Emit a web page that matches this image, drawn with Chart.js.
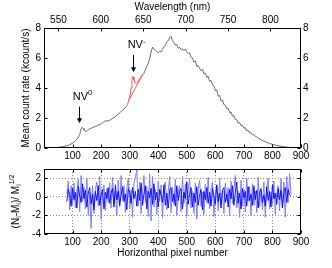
<!DOCTYPE html>
<html>
<head>
<meta charset="utf-8">
<script src="https://cdn.jsdelivr.net/npm/chart.js@4/dist/chart.umd.min.js"></script>
<style>
  html, body { margin: 0; padding: 0; background: #fff; }
  #wrap { position: relative; width: 332px; height: 268px; }
  canvas { position: absolute; left: 0; }
  #espectro { top: 0; }
  #residuo { top: 160px; }
</style>
</head>
<body>
<div id="wrap">
  <canvas id="espectro" width="332" height="160"></canvas>
  <canvas id="residuo" width="332" height="108"></canvas>
</div>
<script>
// Espectro médio (pixel horizontal x taxa de contagem) + resíduos normalizados.

const FONTE = "'Liberation Sans', Arial, sans-serif";

// --- curva cinza, trecho antes do pico NV- ---
const CINZA_A_PX = [0, 10, 20, 30, 40, 50, 60, 70, 80, 90, 100, 105, 110, 115, 120, 125, 128, 131, 134, 137,
  140, 144, 148, 152, 156, 160, 166, 172, 178, 184, 190, 196, 202, 208, 214, 220, 226, 232, 238, 244,
  250, 256, 262, 268, 274, 280, 286, 290];
const CINZA_A_TAXA = [0.02, 0.02, 0.02, 0.03, 0.03, 0.05, 0.07, 0.1, 0.15, 0.22, 0.32, 0.4, 0.48, 0.58, 0.72, 0.9, 1.1, 1.32, 1.38, 1.3,
  1.2, 1.12, 1.1, 1.15, 1.22, 1.27, 1.32, 1.38, 1.42, 1.47, 1.52, 1.58, 1.62, 1.72, 1.8, 1.82, 1.8, 1.87, 1.95, 2.02,
  2.1, 2.2, 2.3, 2.4, 2.5, 2.6, 2.72, 2.82];

// --- trecho vermelho (pico NV-) e linha de base ---
const VERMELHO_PX = [290, 294, 298, 302, 305, 308, 310, 312, 315, 318, 321, 324, 327, 330, 334, 338, 342, 346, 350];
const VERMELHO_TAXA = [2.82, 3.0, 3.25, 3.6, 4.0, 4.5, 4.78, 4.72, 4.55, 4.4, 4.3, 4.28, 4.35, 4.45, 4.58, 4.7, 4.82, 4.9, 4.98];
const BASE_PX = [296, 346];
const BASE_TAXA = [3.15, 4.92];

// --- curva cinza, trecho depois do pico NV- ---
const CINZA_B_PX = [350, 355, 360, 365, 370, 375, 380, 385, 390, 395, 400, 405, 410, 415, 420, 425, 430, 435, 440, 445,
  450, 455, 460, 465, 470, 475, 480, 485, 490, 495, 500, 505, 510, 515, 520, 525, 530, 535, 540, 545,
  550, 555, 560, 565, 570, 575, 580, 585, 590, 595, 600, 605, 610, 615, 620, 625, 630, 635, 640, 645,
  650, 655, 660, 665, 670, 675, 680, 685, 690, 695, 700, 705, 710, 715, 720, 725, 730, 735, 740, 745,
  750, 760, 770, 780, 790, 800, 810, 820, 830, 840, 850, 860, 870, 880];
const CINZA_B_TAXA = [4.98, 5.2, 5.42, 5.65, 5.95, 6.4, 6.72, 6.6, 6.52, 6.42, 6.35, 6.45, 6.4, 6.6, 6.75, 6.85, 7.05, 7.15, 7.35, 7.45,
  7.15, 7.05, 6.85, 6.9, 6.65, 6.72, 6.55, 6.62, 6.5, 6.6, 6.42, 6.3, 6.35, 6.05, 6.0, 5.72, 5.8, 5.45, 5.5, 5.3,
  5.15, 5.25, 4.95, 4.98, 4.7, 4.78, 4.45, 4.5, 4.2, 4.15, 3.82, 3.88, 3.45, 3.5, 3.15, 3.2, 2.9, 2.85, 2.62, 2.65,
  2.35, 2.4, 2.12, 2.15, 1.9, 1.88, 1.65, 1.7, 1.48, 1.5, 1.32, 1.35, 1.15, 1.18, 1.0, 1.02, 0.88, 0.9, 0.78, 0.75,
  0.66, 0.55, 0.45, 0.38, 0.3, 0.24, 0.2, 0.15, 0.12, 0.08, 0.06, 0.04, 0.02, 0.01];

// --- resíduos: pixels 80..865 de 5 em 5 ---
const RESIDUO_INICIO = 80;
const RESIDUO_PASSO = 5;
const RESIDUO_CLARO = [
  0.3, 1.7, -1.4, 1.2, -0.8, 1.5, -1.2, 0.6, 1.9, -1.6,
  2.3, -0.5, 1.0, -1.3, 2.0, -2.0, 0.5, -3.4, 1.2, -1.8,
  0.8, 1.6, -1.0, 2.2, -2.4, 0.4, 1.3, -1.5, 0.9, -0.6,
  1.5, -1.2, 2.1, -0.8, 0.6, -2.0, 1.8, -1.1, 2.3, -0.4,
  1.2, -1.7, 0.9, 2.0, -1.3, 0.7, -2.2, 1.5, 2.1, 2.9,
  -1.0, 1.6, -1.8, 0.4, 2.3, -0.6, 1.1, -2.1, 2.5, -2.6,
  2.2, -1.1, 0.8, -1.9, 1.7, -0.5, 1.3, -2.3, 0.9, 1.6,
  -1.4, 0.6, 2.2, -1.7, 1.0, -0.8, 1.9, -2.0, 0.5, 1.2,
  -1.6, 2.2, -0.7, 1.4, -2.1, 0.8, 2.0, -1.2, 0.6, -1.8,
  1.5, -2.4, 0.9, 1.8, -1.0, 0.5, -1.9, 1.4, -0.6, 2.1,
  -1.3, 0.8, 1.6, -2.1, 0.4, 1.2, -1.5, 2.0, -0.9, 0.7,
  -1.8, 1.5, -0.4, 1.0, -2.0, 1.7, -0.7, 0.9, 2.3, -1.2,
  0.6, -2.2, 1.8, -1.0, 0.8, -1.6, 2.0, -0.5, 1.1, -2.0,
  1.4, -0.9, 0.6, -1.7, 2.1, -1.1, 0.7, -1.4, 1.6, -2.2,
  0.9, 2.0, -1.3, 0.5, -0.8, 1.7, -1.9, 0.4, 1.2, -1.5,
  2.0, -1.0, 1.6, -2.2, 2.2, -0.6, 2.5, 0.3];
const RESIDUO_ESCURO = [
  -0.5, 0.8, 0.2, -1.0, 0.9, -0.3, 0.5, -1.2, 1.1, 0.1,
  -0.6, 1.4, -0.2, 0.7, -1.1, 0.4, 1.0, -0.8, 0.3, -1.4,
  0.6, -0.4, 1.2, -0.9, 0.2, 0.8, -1.3, 0.5, -0.2, 1.0,
  -0.7, 0.4, 0.9, -1.1, 1.3, -0.3, 0.6, -0.9, 0.2, 1.1,
  -0.5, 0.3, -1.4, 0.9, 0.5, -0.7, 1.0, -0.2, 0.6, -1.0,
  0.8, -0.4, 1.5, -0.9, 0.3, 1.2, -1.3, 0.6, -0.1, 0.9,
  -0.8, 1.4, -0.3, 0.5, -1.1, 0.8, 0.2, -0.6, 1.3, -0.9,
  0.4, -1.2, 0.7, 1.0, -0.5, 0.3, -1.0, 1.2, -0.4, 0.6,
  0.9, -1.3, 0.5, -0.2, 1.6, -0.8, 0.3, 1.0, -1.1, 0.4,
  -0.6, 1.1, -0.9, 0.2, 0.8, -1.4, 0.6, -0.3, 1.0, -0.7,
  0.5, -1.0, 0.9, 0.1, -0.8, 1.3, -0.5, 0.4, -1.2, 0.7,
  1.0, -0.6, 0.3, -1.1, 0.8, -0.2, 1.2, -0.9, 0.5, 1.6,
  -0.7, 0.4, -1.3, 0.9, -0.1, 0.6, -1.0, 1.1, -0.4, 0.3,
  -0.9, 1.2, -0.3, 0.7, -1.2, 0.5, 0.9, -0.6, 0.2, -1.0,
  1.1, -0.4, 0.6, -1.1, 1.3, -0.2, 0.4, -0.8, 0.9, -0.3,
  0.7, -1.2, 0.5, 1.0, -0.6, 0.8, 0.2, 0.1];

// --- eixos ---
const PIXEL_MIN = 0, PIXEL_MAX = 900;
const ONDA_MIN = 533, ONDA_MAX = 836;      // comprimento de onda nas bordas do eixo
const TAXA_MIN = 0, TAXA_MAX = 8;
const RES_MIN = -4, RES_MAX = 3;

// anotações: [pixel, taxa] do texto e da seta (início, ponta)
const ANOT_NV0 = { texto: [101, 3.2], seta: [124, 2.75, 1.65], sup: "0" };
const ANOT_NVM = { texto: [293, 6.65], seta: [311, 6.2, 5.05], sup: "-" };


Chart.defaults.font.family = FONTE;
Chart.defaults.font.size = 10;
Chart.defaults.color = "#000";

const pontos = (xs, ys) => xs.map((x, i) => ({ x, y: ys[i] }));


// ---------------------------------------------------------------------------
// Helpers de desenho
// ---------------------------------------------------------------------------

// texto com sub/sobrescrito; partes = [[texto, "sub"|"sup"|null], ...]
function textoRico(ctx, partes, x, y, rot, tam, alinhar) {
  ctx.save();
  ctx.translate(x, y);
  ctx.rotate(rot);
  ctx.fillStyle = "#000";
  ctx.textBaseline = "alphabetic";
  const pequeno = Math.round(tam * 0.72);
  const fonte = (p) => `${p[1] ? pequeno : tam}px ${FONTE}`;
  let largura = 0;
  for (const p of partes) { ctx.font = fonte(p); largura += ctx.measureText(p[0]).width; }
  let cx = alinhar === "left" ? 0 : -largura / 2;
  for (const p of partes) {
    ctx.font = fonte(p);
    const dy = p[1] === "sub" ? tam * 0.28 : p[1] === "sup" ? -tam * 0.42 : 0;
    ctx.fillText(p[0], cx, (alinhar === "left" ? 0 : tam * 0.35) + dy);
    cx += ctx.measureText(p[0]).width;
  }
  ctx.restore();
}

// caixa estilo matlab + marcas de escala voltadas para dentro
const caixaMatlab = {
  id: "caixaMatlab",
  afterDraw(chart, args, opts) {
    const { ctx, chartArea: a } = chart;
    const L = Math.round(a.left) + 0.5, R = Math.round(a.right) - 0.5;
    const T = Math.round(a.top) + 0.5, B = Math.round(a.bottom) - 0.5;
    ctx.save();
    ctx.strokeStyle = "#000";
    ctx.lineWidth = 1;
    ctx.strokeRect(L, T, R - L, B - T);
    ctx.beginPath();
    for (const m of opts.marcas || []) {
      const s = chart.scales[m.escala];
      for (const t of s.ticks) {
        const p = Math.round(s.getPixelForValue(t.value)) + 0.5;
        for (const lado of m.lados) {
          if (lado === "bottom") { ctx.moveTo(p, B); ctx.lineTo(p, B - 3); }
          if (lado === "top") { ctx.moveTo(p, T); ctx.lineTo(p, T + 3); }
          if (lado === "left") { ctx.moveTo(L, p); ctx.lineTo(L + 3, p); }
          if (lado === "right") { ctx.moveTo(R, p); ctx.lineTo(R - 3, p); }
        }
      }
    }
    ctx.stroke();
    ctx.restore();
  },
};

// setas e rótulos NV0 / NV-
const anotacoes = {
  id: "anotacoes",
  afterDatasetsDraw(chart) {
    const { ctx, scales: { x, y } } = chart;
    for (const a of [ANOT_NV0, ANOT_NVM]) {
      textoRico(ctx, [["NV", null], [a.sup, "sup"]],
        x.getPixelForValue(a.texto[0]), y.getPixelForValue(a.texto[1]), 0, 11, "left");
      const sx = Math.round(x.getPixelForValue(a.seta[0])) + 0.5;
      const y0 = y.getPixelForValue(a.seta[1]);
      const y1 = y.getPixelForValue(a.seta[2]);
      ctx.save();
      ctx.strokeStyle = "#000";
      ctx.fillStyle = "#000";
      ctx.lineWidth = 1;
      ctx.beginPath();
      ctx.moveTo(sx, y0);
      ctx.lineTo(sx, y1 - 4);
      ctx.stroke();
      ctx.beginPath();
      ctx.moveTo(sx - 2.5, y1 - 5);
      ctx.lineTo(sx + 2.5, y1 - 5);
      ctx.lineTo(sx, y1);
      ctx.closePath();
      ctx.fill();
      ctx.restore();
    }
  },
};

// rótulo do eixo y dos resíduos: (N_i-M_i)/ M_i^(1/2)
const rotuloResiduo = {
  id: "rotuloResiduo",
  afterDraw(chart) {
    const a = chart.chartArea;
    textoRico(chart.ctx,
      [["(N", null], ["i", "sub"], ["-M", null], ["i", "sub"], [")/ M", null], ["i", "sub"], ["1/2", "sup"]],
      15, (a.top + a.bottom) / 2, -Math.PI / 2, 10);
  },
};


// ---------------------------------------------------------------------------
// Gráfico de cima: espectro
// ---------------------------------------------------------------------------

const linha = (data, cor, espessura = 1) => ({
  data, borderColor: cor, borderWidth: espessura, pointRadius: 0, tension: 0, fill: false,
});

new Chart(document.getElementById("espectro"), {
  type: "line",
  data: {
    datasets: [
      linha(pontos(VERMELHO_PX, VERMELHO_TAXA), "rgb(255,70,70)", 0.9),
      linha(pontos(BASE_PX, BASE_TAXA), "rgb(255,70,70)", 0.9),
      linha(pontos(CINZA_A_PX, CINZA_A_TAXA), "#5a5a5a", 0.9),
      linha(pontos(CINZA_B_PX, CINZA_B_TAXA), "#5a5a5a", 0.9),
    ],
  },
  options: {
    responsive: false,
    animation: false,
    devicePixelRatio: 1,
    events: [],
    layout: { padding: 0 },
    plugins: { legend: { display: false }, tooltip: { enabled: false }, caixaMatlab: {
      marcas: [
        { escala: "x", lados: ["bottom"] },
        { escala: "xOnda", lados: ["top"] },
        { escala: "y", lados: ["left", "right"] },
      ],
    } },
    scales: {
      x: {
        type: "linear", position: "bottom", min: PIXEL_MIN, max: PIXEL_MAX,
        grid: { display: false, drawTicks: false }, border: { display: false },
        ticks: { stepSize: 100, padding: 2, maxRotation: 0,
          callback: (v) => (v === 0 ? "" : v) },
        afterFit: (s) => { s.height = 12; },
      },
      xOnda: {
        type: "linear", position: "top", min: ONDA_MIN, max: ONDA_MAX,
        grid: { display: false, drawTicks: false }, border: { display: false },
        ticks: { stepSize: 50, includeBounds: false, padding: 2, maxRotation: 0 },
        title: { display: true, text: "Wavelength (nm)", font: { size: 10 }, padding: { top: 1, bottom: 0 } },
        afterFit: (s) => { s.height = 28; },
      },
      y: {
        type: "linear", position: "left", min: TAXA_MIN, max: TAXA_MAX,
        grid: { display: false, drawTicks: false }, border: { display: false },
        ticks: { stepSize: 2, padding: 3 },
        title: { display: true, text: "Mean count rate (kcount/s)", font: { size: 10 }, padding: { top: 20, bottom: 0 } },
        afterFit: (s) => { s.width = 44; },
      },
      yDireita: {
        type: "linear", position: "right", min: TAXA_MIN, max: TAXA_MAX,
        grid: { display: false, drawTicks: false }, border: { display: false },
        ticks: { stepSize: 2, padding: 2 },
        afterFit: (s) => { s.width = 31; },
      },
    },
  },
  plugins: [caixaMatlab, anotacoes],
});


// ---------------------------------------------------------------------------
// Gráfico de baixo: resíduos
// ---------------------------------------------------------------------------

const residuoPx = RESIDUO_CLARO.map((_, i) => RESIDUO_INICIO + i * RESIDUO_PASSO);
const gradePontilhada = (borda) => ({
  color: (c) => (c.tick && borda.includes(c.tick.value) ? "rgba(0,0,0,0)" : "#8a8a8a"),
  lineWidth: 1,
  drawTicks: false,
});

new Chart(document.getElementById("residuo"), {
  type: "line",
  data: {
    datasets: [
      linha(pontos(residuoPx, RESIDUO_ESCURO), "#0000ff", 0.9),
      linha(pontos(residuoPx, RESIDUO_CLARO), "rgb(125,125,255)"),
    ],
  },
  options: {
    responsive: false,
    animation: false,
    devicePixelRatio: 1,
    events: [],
    layout: { padding: { top: 8, right: 31 } },
    plugins: { legend: { display: false }, tooltip: { enabled: false }, caixaMatlab: {
      marcas: [
        { escala: "x", lados: ["bottom", "top"] },
        { escala: "y", lados: ["left", "right"] },
      ],
    } },
    scales: {
      x: {
        type: "linear", position: "bottom", min: PIXEL_MIN, max: PIXEL_MAX,
        grid: gradePontilhada([PIXEL_MIN, PIXEL_MAX]),
        border: { display: false, dash: [1, 2] },
        ticks: { stepSize: 100, padding: 2, maxRotation: 0,
          callback: (v) => (v === 0 ? "" : v) },
        title: { display: true, text: "Horizonthal pixel number", font: { size: 10 }, padding: { top: 0, bottom: 9 } },
        afterFit: (s) => { s.height = 34; },
      },
      y: {
        type: "linear", position: "left", min: RES_MIN, max: RES_MAX,
        grid: gradePontilhada([RES_MIN, RES_MAX]),
        border: { display: false, dash: [1, 2] },
        ticks: { stepSize: 2, includeBounds: false, padding: 3 },
        afterFit: (s) => { s.width = 44; },
      },
    },
  },
  plugins: [caixaMatlab, rotuloResiduo],
});
</script>
</body>
</html>
